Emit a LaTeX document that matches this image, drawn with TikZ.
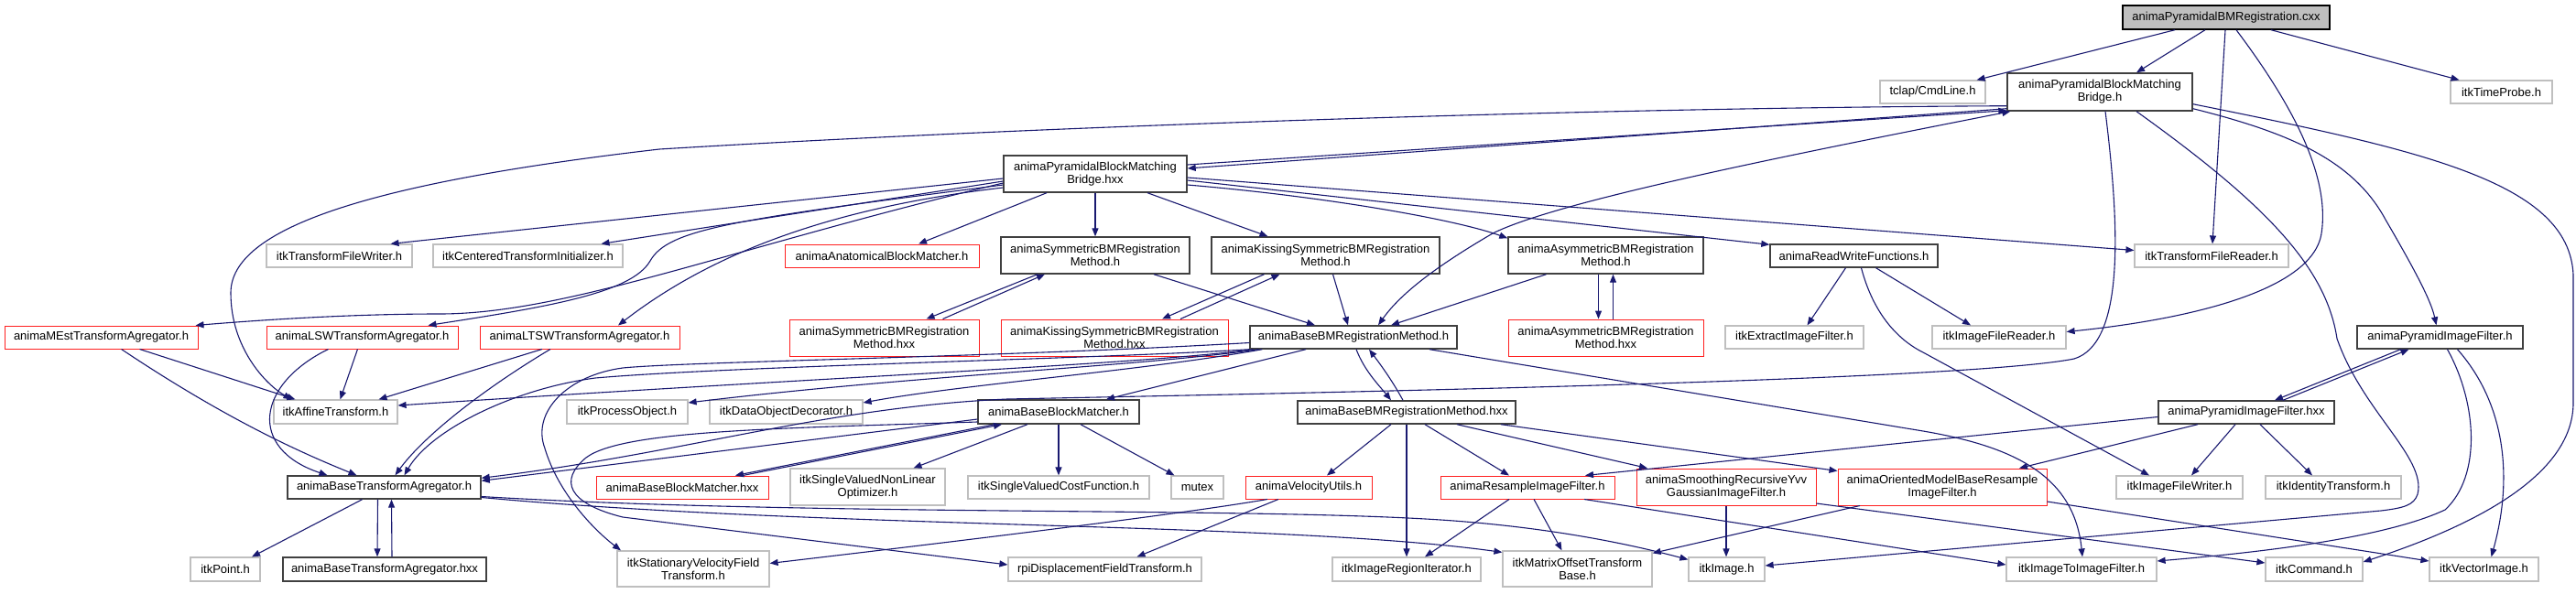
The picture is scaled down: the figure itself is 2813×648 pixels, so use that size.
\documentclass[tikz,border=0pt]{standalone}
\usepackage{fontspec}
\setmainfont{Liberation Sans}
\usetikzlibrary{arrows.meta}
\definecolor{ecol}{HTML}{191970}
\definecolor{extgray}{HTML}{BFBFBF}
\definecolor{docgray}{HTML}{404040}
\definecolor{truncred}{HTML}{FF2020}
\begin{document}
\begin{tikzpicture}[x=1pt,y=-1pt,
 box/.style={inner sep=0pt, align=center, font=\fontsize{13pt}{14pt}\selectfont},
 sz/.style 2 args={minimum width=#1pt, minimum height=#2pt},
 docnode/.style={box, draw=docgray, line width=1.4pt},
 rednode/.style={box, draw=truncred, line width=1pt},
 extnode/.style={box, draw=extgray, line width=1.2pt},
 rootnode/.style={box, draw=black, fill=extgray, line width=1.4pt},
 e/.style={draw=ecol, line width=1.1pt, -{Triangle[length=9pt,width=7pt]}},
 ee/.style={draw=ecol, line width=1.1pt, {Triangle[length=9pt,width=7pt]}-{Triangle[length=9pt,width=7pt]}},
]
\fill[white] (0,0) rectangle (2813,648);
\useasboundingbox (0,0) rectangle (2813,648);

% ---------- nodes ----------
\node[rootnode, sz={226}{26}] (root) at (2431,19) {animaPyramidalBMRegistration.cxx};
\node[extnode, sz={115}{25}] (cmd) at (2110.5,100.5) {tclap/CmdLine.h};
\node[docnode, sz={202}{41}] (bh) at (2293,100.5) {animaPyramidalBlockMatching\\Bridge.h};
\node[extnode, sz={111}{25}] (tp) at (2731.5,100.5) {itkTimeProbe.h};

\node[docnode, sz={200}{40}] (bhx) at (1196,190) {animaPyramidalBlockMatching\\Bridge.hxx};

\node[extnode, sz={159}{25}] (tfw) at (370.5,279.5) {itkTransformFileWriter.h};
\node[extnode, sz={207}{25}] (cti) at (576.5,279.5) {itkCenteredTransformInitializer.h};
\node[rednode, sz={212}{25}] (abm) at (963,279.5) {animaAnatomicalBlockMatcher.h};
\node[docnode, sz={206}{40}] (sym) at (1196,279) {animaSymmetricBMRegistration\\Method.h};
\node[docnode, sz={249}{40}] (kis) at (1447.5,279) {animaKissingSymmetricBMRegistration\\Method.h};
\node[docnode, sz={213}{40}] (asy) at (1753.5,279) {animaAsymmetricBMRegistration\\Method.h};
\node[docnode, sz={183}{25}] (rwf) at (2024.5,279.5) {animaReadWriteFunctions.h};
\node[extnode, sz={168}{25}] (tfr) at (2415,279.5) {itkTransformFileReader.h};

\node[rednode, sz={211}{25}] (mest) at (110.5,368.5) {animaMEstTransformAgregator.h};
\node[rednode, sz={209}{25}] (lsw) at (395.5,368.5) {animaLSWTransformAgregator.h};
\node[rednode, sz={218}{25}] (ltsw) at (633,368.5) {animaLTSWTransformAgregator.h};
\node[rednode, sz={207}{40}] (symx) at (965.5,369) {animaSymmetricBMRegistration\\Method.hxx};
\node[rednode, sz={248}{40}] (kisx) at (1217,369) {animaKissingSymmetricBMRegistration\\Method.hxx};
\node[docnode, sz={226}{25}] (bbm) at (1478,368.5) {animaBaseBMRegistrationMethod.h};
\node[rednode, sz={213}{40}] (asyx) at (1753.5,369) {animaAsymmetricBMRegistration\\Method.hxx};
\node[extnode, sz={151}{25}] (eif) at (1959.5,368.5) {itkExtractImageFilter.h};
\node[extnode, sz={146}{25}] (ifr) at (2183,368.5) {itkImageFileReader.h};
\node[docnode, sz={181}{25}] (pif) at (2664.5,368.5) {animaPyramidImageFilter.h};

\node[extnode, sz={135}{26}] (aff) at (366.5,450) {itkAffineTransform.h};
\node[extnode, sz={132}{26}] (po) at (685,450) {itkProcessObject.h};
\node[extnode, sz={167}{26}] (dod) at (858.5,450) {itkDataObjectDecorator.h};
\node[docnode, sz={176}{26}] (bbmat) at (1156,450) {animaBaseBlockMatcher.h};
\node[docnode, sz={238}{25}] (bbmx) at (1536,450.5) {animaBaseBMRegistrationMethod.hxx};
\node[docnode, sz={192}{25}] (pifx) at (2453,450.5) {animaPyramidImageFilter.hxx};

\node[docnode, sz={211}{25}] (bta) at (419.5,532.5) {animaBaseTransformAgregator.h};
\node[rednode, sz={188}{25}] (bbmatx) at (745,532.5) {animaBaseBlockMatcher.hxx};
\node[extnode, sz={169}{40}] (svnlo) at (947.5,532) {itkSingleValuedNonLinear\\Optimizer.h};
\node[extnode, sz={198}{25}] (svcf) at (1156,532.5) {itkSingleValuedCostFunction.h};
\node[extnode, sz={57}{25}] (mutex) at (1307.5,532.5) {mutex};
\node[rednode, sz={138}{25}] (vel) at (1429,532.5) {animaVelocityUtils.h};
\node[rednode, sz={190}{25}] (res) at (1668,532.5) {animaResampleImageFilter.h};
\node[rednode, sz={196}{40}] (smo) at (1885,532) {animaSmoothingRecursiveYvv\\GaussianImageFilter.h};
\node[rednode, sz={228}{40}] (omr) at (2121,532) {animaOrientedModelBaseResample\\ImageFilter.h};
\node[extnode, sz={138}{25}] (ifw) at (2380,532.5) {itkImageFileWriter.h};
\node[extnode, sz={148}{25}] (idt) at (2548,532.5) {itkIdentityTransform.h};

\node[extnode, sz={76}{26}] (pt) at (246,622) {itkPoint.h};
\node[docnode, sz={222}{26}] (btax) at (420,622) {animaBaseTransformAgregator.hxx};
\node[extnode, sz={166}{39}] (svf) at (757,621.5) {itkStationaryVelocityField\\Transform.h};
\node[extnode, sz={211}{26}] (rpi) at (1206.5,622) {rpiDisplacementFieldTransform.h};
\node[extnode, sz={162}{26}] (iri) at (1536,622) {itkImageRegionIterator.h};
\node[extnode, sz={163}{39}] (mot) at (1722.5,621.5) {itkMatrixOffsetTransform\\Base.h};
\node[extnode, sz={83}{26}] (img) at (1885.5,622) {itkImage.h};
\node[extnode, sz={164}{26}] (i2i) at (2273,622) {itkImageToImageFilter.h};
\node[extnode, sz={106}{26}] (cmdh) at (2527,622) {itkCommand.h};
\node[extnode, sz={119}{26}] (vi) at (2712.5,622) {itkVectorImage.h};

% ---------- edges ----------
% root
\draw[e] ([xshift=-56pt]root.south) -- ([xshift=48pt]cmd.north);
\draw[e] ([xshift=-23pt]root.south) -- ([xshift=40pt]bh.north);
\draw[e] ([xshift=-1pt]root.south) -- ([xshift=1pt]tfr.north);
\draw[e] ([xshift=11pt]root.south) .. controls (2500,110) and (2545,190) .. (2535,255) .. controls (2525,320) and (2380,350) .. ([yshift=6pt]ifr.east);
\draw[e] ([xshift=49pt]root.south) -- ([xshift=-46pt]tp.north);

% Bridge.h
\draw[e] ([yshift=3pt]bh.south west) -- ([yshift=6pt]bhx.east);
\draw[e] ([yshift=10pt]bhx.east) -- ([yshift=1pt]bh.south west);
\draw[e] ([yshift=6pt]bh.south west) .. controls (1700,118) and (1100,140) .. (720,163) .. controls (400,200) and (252,250) .. (252,320) .. controls (252,380) and (290,420) .. ([xshift=-48pt]aff.north);
\draw[ee] ([xshift=4pt]bh.south west) .. controls (1950,170) and (1700,220) .. (1630,255) .. controls (1570,290) and (1530,320) .. ([xshift=27pt]bbm.north);
\draw[e] ([xshift=6pt]bh.south) .. controls (2315,250) and (2320,375) .. (2265,392) .. controls (2150,415) and (1500,428) .. (1100,436) .. controls (900,445) and (750,495) .. ([yshift=-3pt]bta.north east);
\draw[e] ([yshift=3pt]bh.south east) .. controls (2500,145) and (2570,175) .. (2605,240) .. controls (2640,300) and (2655,330) .. ([xshift=-4pt]pif.north);
\draw[e] ([yshift=8pt]bh.south east) .. controls (2650,165) and (2805,200) .. (2810,300) -- (2810,440) .. controls (2810,520) and (2700,575) .. ([yshift=8pt]cmdh.east);
\draw[e] ([xshift=40pt]bh.south) .. controls (2470,220) and (2540,290) .. (2552,370) .. controls (2580,450) and (2650,500) .. (2640,540) .. controls (2636,552) and (2625,555) .. (2600,558) -- ([yshift=4pt]img.east);

% Bridge.hxx
\draw[e] ([xshift=-53pt]bhx.south) -- ([xshift=40pt]abm.north);
\draw[e] (bhx.south) -- (sym.north);
\draw[e] ([xshift=57pt]bhx.south) -- ([xshift=-63pt]kis.north);
\draw[e] ([yshift=-12pt]bhx.east) .. controls (1450,215) and (1590,240) .. ([yshift=-2pt]asy.north west);
\draw[e] ([yshift=-7pt]bhx.east) -- ([yshift=-1pt]rwf.north west);
\draw[e] ([yshift=-4pt]bhx.east) -- ([yshift=6pt]tfr.west);
\draw[e] ([yshift=-5pt]bhx.west) -- ([xshift=56pt]tfw.north);
\draw[e] ([yshift=-8pt]bhx.west) -- ([xshift=80pt]cti.north);
\draw[e] ([yshift=-10pt]bhx.west) .. controls (800,270) and (620,343) .. (480,343) .. controls (380,343) and (280,350) .. ([xshift=-3pt]mest.north east);
\draw[e] ([yshift=-12pt]bhx.west) .. controls (800,240) and (730,250) .. (710,285) .. controls (690,320) and (600,335) .. ([xshift=72pt]lsw.north);
\draw[e] ([yshift=-15pt]bhx.west) .. controls (880,230) and (760,290) .. ([xshift=42pt]ltsw.north);

% registration method headers
\draw[e] ([xshift=-63pt]sym.south) -- ([xshift=46pt]symx.north);
\draw[e] ([xshift=64pt]symx.north) -- ([xshift=-55pt]sym.south);
\draw[e] ([xshift=64pt]sym.south) -- ([xshift=-42pt]bbm.north);
\draw[e] ([xshift=-67pt]kis.south) -- ([xshift=52pt]kisx.north);
\draw[e] ([xshift=72pt]kisx.north) -- ([xshift=-50pt]kis.south);
\draw[e] ([xshift=8pt]kis.south) -- ([xshift=-6pt]bbm.north);
\draw[e] ([xshift=-8pt]asy.south) -- ([xshift=-8pt]asyx.north);
\draw[e] ([xshift=8pt]asyx.north) -- ([xshift=8pt]asy.south);
\draw[e] ([xshift=-65pt]asy.south) -- ([xshift=41pt]bbm.north);

% ReadWriteFunctions
\draw[e] ([xshift=-9pt]rwf.south) -- ([xshift=14pt]eif.north);
\draw[e] ([xshift=24pt]rwf.south) -- ([xshift=-31pt]ifr.north);
\draw[e] ([xshift=8pt]rwf.south) .. controls (2045,340) and (2070,370) .. (2100,385) -- ([xshift=-33pt]ifw.north);

% PyramidImageFilter
\draw[e] ([xshift=-43pt]pif.south) -- ([xshift=31pt]pifx.north);
\draw[e] ([xshift=40pt]pifx.north) -- ([xshift=-34pt]pif.south);
\draw[e] ([xshift=8pt]pif.south) .. controls (2705,440) and (2710,520) .. (2670,557) .. controls (2600,590) and (2450,605) .. ([yshift=9pt]i2i.east);
\draw[e] ([xshift=19pt]pif.south) .. controls (2735,440) and (2745,520) .. ([xshift=8pt]vi.north);
\draw[e] ([xshift=-12pt]pifx.south) -- ([xshift=13pt]ifw.north);
\draw[e] ([xshift=15pt]pifx.south) -- ([xshift=-23pt]idt.north);
\draw[e] ([xshift=-53pt]pifx.south) -- ([xshift=84pt]omr.north);
\draw[e] ([yshift=-5pt]pifx.west) -- ([xshift=63pt]res.north);

% BaseBMRegistrationMethod.h
\draw[e] ([xshift=3pt]bbm.south) .. controls (1490,405) and (1505,420) .. ([xshift=-17pt]bbmx.north);
\draw[e] ([xshift=-4pt]bbmx.north) .. controls (1520,415) and (1505,395) .. ([xshift=17pt]bbm.south);
\draw[e] ([xshift=-52pt]bbm.south) -- ([xshift=52pt]bbmat.north);
\draw[e] ([xshift=10pt]bbm.south west) .. controls (1250,400) and (1000,410) .. ([yshift=10pt]po.east);
\draw[e] ([xshift=14pt]bbm.south west) .. controls (1250,405) and (1050,420) .. ([yshift=10pt]dod.east);
\draw[e] ([xshift=4pt]bbm.south west) .. controls (1250,398) and (900,412) .. ([yshift=7pt]aff.east);
\draw[e] (bbm.south west) .. controls (1200,392) and (800,400) .. (650,413) .. controls (560,425) and (470,470) .. ([xshift=22pt]bta.north);
\draw[e] ([yshift=-6pt]bbm.west) .. controls (1100,390) and (750,395) .. (680,402) .. controls (620,410) and (580,450) .. (595,490) .. controls (610,540) and (650,580) .. ([xshift=-79pt]svf.north);
\draw[e] ([xshift=83pt]bbm.south) -- (2100,471) .. controls (2200,488) and (2265,520) .. ([xshift=1pt]i2i.north);

% BaseBlockMatcher.h
\draw[e] ([xshift=-34pt]bbmat.south) -- ([xshift=50pt]svnlo.north);
\draw[e] (bbmat.south) -- (svcf.north);
\draw[e] ([xshift=24pt]bbmat.south) -- ([xshift=-25pt]mutex.north);
\draw[e] ([xshift=-70pt]bbmat.south) -- ([xshift=58pt]bbmatx.north);
\draw[e] ([xshift=66pt]bbmatx.north) -- ([xshift=-62pt]bbmat.south);
\draw[e] ([yshift=-8pt]bbmat.west) -- ([yshift=-6pt]bta.north east);
\draw[e] ([yshift=-11pt]bbmat.west) .. controls (850,468) and (680,470) .. (640,500) .. controls (610,525) and (620,550) .. (680,565) -- ([yshift=5pt]rpi.west);

% BaseBMRegistrationMethod.hxx
\draw[e] ([xshift=-17pt]bbmx.south) -- ([xshift=20pt]vel.north);
\draw[e] (bbmx.south) -- (iri.north);
\draw[e] ([xshift=20pt]bbmx.south) -- ([xshift=-20pt]res.north);
\draw[e] ([xshift=55pt]bbmx.south) -- ([xshift=-86pt]smo.north);
\draw[e] ([xshift=103pt]bbmx.south) -- ([yshift=-3pt]omr.north west);

% lower filters
\draw[e] ([xshift=-45pt]vel.south) .. controls (1300,560) and (1100,585) .. ([yshift=6pt]svf.east);
\draw[e] ([xshift=-33pt]vel.south) -- ([xshift=35pt]rpi.north);
\draw[e] ([xshift=-20pt]res.south) -- ([xshift=20pt]iri.north);
\draw[e] ([xshift=7pt]res.south) -- ([xshift=-17pt]mot.north);
\draw[e] ([xshift=62pt]res.south) -- ([yshift=5pt]i2i.west);
\draw[e] (smo.south) -- ([xshift=-0.5pt]img.north);
\draw[e] ([yshift=-18pt]smo.east) -- ([yshift=7pt]cmdh.west);
\draw[e] ([xshift=-90pt]omr.south) -- ([yshift=-3pt]mot.north east);
\draw[e] ([yshift=-16pt]omr.east) -- ([yshift=9pt]vi.west);

% BaseTransformAgregator.h
\draw[e] ([xshift=-24pt]bta.south) -- ([xshift=29pt]pt.north);
\draw[e] ([xshift=-7pt]bta.south) -- ([xshift=-8pt]btax.north);
\draw[e] ([xshift=8pt]btax.north) -- ([xshift=8pt]bta.south);
\draw[e] ([yshift=-10pt]bta.east) .. controls (900,565) and (1400,553) .. (1600,570) .. controls (1720,580) and (1800,600) .. ([yshift=-3pt]img.north west);
\draw[e] ([yshift=-11pt]bta.east) .. controls (900,578) and (1400,570) .. ([yshift=-2pt]mot.north west);

% transform agregators
\draw[e] ([xshift=42pt]mest.south) -- ([xshift=-44pt]aff.north);
\draw[e] ([xshift=22pt]mest.south) .. controls (250,460) and (330,495) .. ([xshift=-30pt]bta.north);
\draw[e] ([xshift=-5pt]lsw.south) -- ([xshift=5pt]aff.north);
\draw[e] ([xshift=-37pt]lsw.south) .. controls (280,420) and (270,490) .. ([xshift=-62pt]bta.north);
\draw[e] ([xshift=-41pt]ltsw.south) -- ([xshift=47pt]aff.north);
\draw[e] ([xshift=-32pt]ltsw.south) .. controls (520,430) and (460,480) .. ([xshift=12pt]bta.north);
\end{tikzpicture}
\end{document}
